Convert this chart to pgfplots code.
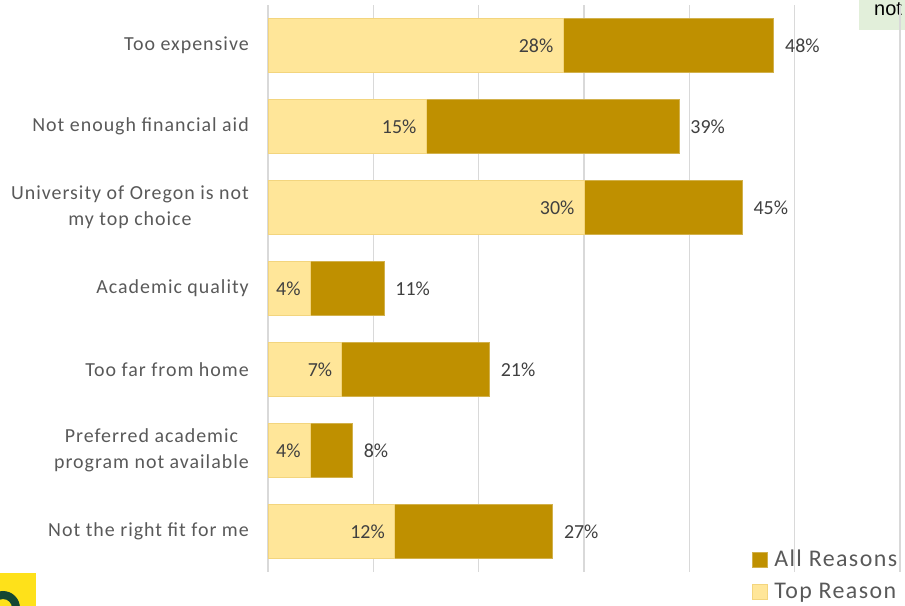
\documentclass[border=0pt]{standalone}
\usepackage{pgfplots}
\pgfplotsset{compat=1.18}
\usepackage{fontspec}
\setmainfont{Carlito}
\newfontfamily\labfont[LetterSpace=5]{Carlito}
\newfontfamily\legfont[LetterSpace=6]{Carlito}
\newfontfamily\arialfont{Liberation Sans}

\definecolor{allR}{HTML}{BF9000}
\definecolor{topR}{HTML}{FFE699}
\definecolor{topEdge}{HTML}{F3D57E}
\definecolor{gridc}{HTML}{D9D9D9}
\definecolor{labc}{HTML}{595959}
\definecolor{valc}{HTML}{404040}
\definecolor{notebox}{HTML}{E2EFDA}
\definecolor{uoyellow}{HTML}{FEE11A}
\definecolor{uogreen}{HTML}{154733}

\begin{document}
\begin{tikzpicture}
\useasboundingbox (0,0) rectangle (905bp,606bp);

% logo corner and cropped note box
\begin{scope}
  \clip (0,0) rectangle (36bp,33bp);
  \fill[uoyellow] (0,0) rectangle (36bp,33bp);
  \fill[uogreen, even odd rule] (3bp,-2bp) circle (17bp) (3bp,-2bp) circle (9bp);
\end{scope}
\fill[notebox] (859bp,576bp) rectangle (910bp,606bp);
\node[anchor=base west, inner sep=0pt, font=\arialfont\fontsize{20}{22}\selectfont]
  at (874bp,590bp) {not};

\begin{axis}[
    at={(268bp,34bp)}, anchor=south west,
    scale only axis,
    width=632bp, height=567bp,
    /pgf/number format/assume math mode=true,
    xbar, bar shift=0pt, bar width=54bp,
    xmin=0, xmax=60,
    ymin=-0.5, ymax=6.5,
    y dir=reverse,
    xtick={0,10,...,60}, xticklabels={},
    xmajorgrids, major grid style={gridc, line width=1.2bp},
    ytick={0,...,6},
    yticklabels={Too expensive, Not enough financial aid,
      {University of Oregon is not\\my top choice}, Academic quality,
      Too far from home, {Preferred academic\\program not available},
      Not the right fit for me},
    yticklabel style={align=center, inner sep=0pt, xshift=-19bp,
      text=labc, font=\labfont\fontsize{20}{26}\selectfont},
    axis line style={draw=none},
    major tick length=0pt,
    point meta=x,
    legend style={at={(0.765,0.042)}, anchor=north west, draw=none,
      fill=none, font=\legfont\fontsize{24}{27}\selectfont, text=labc,
      row sep=11bp, inner sep=0pt,
      cells={anchor=west}},
    legend image code/.code={\fill[#1] (0bp,-7.5bp) rectangle (15bp,7.5bp);
      \path (20bp,0bp);},
]
\addplot[fill=allR, draw=allR!70!white, line width=0.6bp,
  nodes near coords={\pgfmathprintnumber{\pgfplotspointmeta}\%},
  nodes near coords style={anchor=west, xshift=8bp, text=valc,
    font=\fontsize{20}{22}\selectfont}]
  coordinates {(48,0) (39,1) (45,2) (11,3) (21,4) (8,5) (27,6)};
\addlegendentry{All Reasons}
\addplot[fill=topR, draw=topEdge, line width=0.6bp,
  nodes near coords={\pgfmathprintnumber{\pgfplotspointmeta}\%},
  nodes near coords style={anchor=east, xshift=-6bp, text=valc,
    font=\fontsize{20}{22}\selectfont}]
  coordinates {(28,0) (15,1) (30,2) (4,3) (7,4) (4,5) (12,6)};
\addlegendentry{Top Reason}
\end{axis}
\end{tikzpicture}
\end{document}
